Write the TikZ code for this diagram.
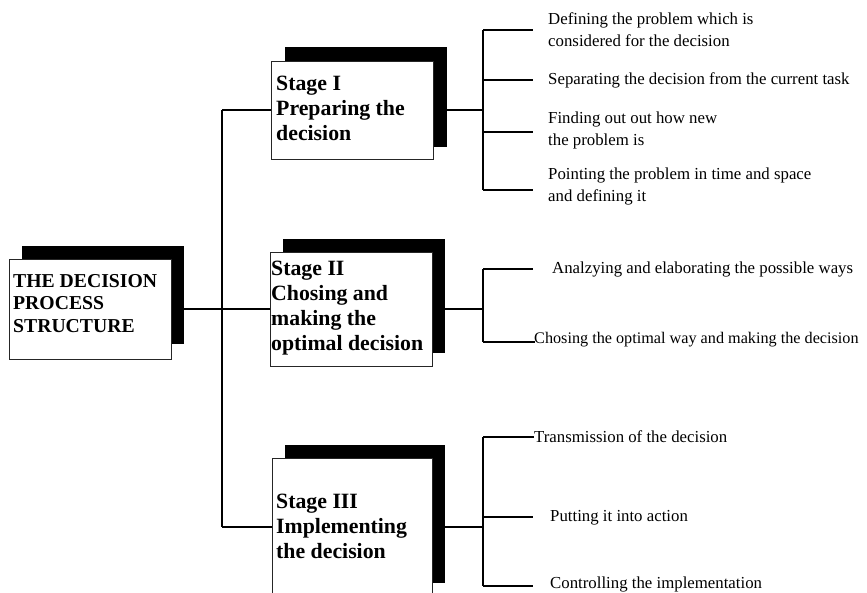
\documentclass[tikz,border=0pt]{standalone}
\usepackage{fontspec}
\setmainfont{Liberation Serif}
\begin{document}
\begin{tikzpicture}[x=1pt,y=-1pt,
  shadowbox/.style={fill=black,draw=none,anchor=north west,inner sep=0pt,minimum width=162,minimum height=#1},
  whitebox/.style={fill=white,draw=black!85,line width=1pt,anchor=north west,inner sep=0pt,minimum width=162,minimum height=#1},
  conn/.style={line width=1.3pt},
  tickline/.style={line width=1.1pt},
  item/.style={anchor=base west,inner sep=0pt,font=\fontsize{16.8}{22}\selectfont},
  stagetext/.style={anchor=base west,inner sep=0pt,font=\fontsize{21.8}{25}\selectfont\bfseries},
  titletext/.style={anchor=base west,inner sep=0pt,font=\fontsize{19.7}{22.5}\selectfont\bfseries}]
\useasboundingbox (0,0) rectangle (867,593);
\clip (0,0) rectangle (867,593);

% main box
\node[shadowbox=98] (mS) at (22,246) {};
\node[whitebox=100] (m) at (9,259) {};
\node[titletext] (m1) at (13,287.5) {THE DECISION};
\node[titletext] (m2) at (13,310) {PROCESS};
\node[titletext] (m3) at (13,332.5) {STRUCTURE};

% stage I
\node[shadowbox=100] (s1S) at (285,47) {};
\node[whitebox=98] (s1) at (271,61) {};
\node[stagetext] (s1a) at (276,91) {Stage I};
\node[stagetext] (s1b) at (276,116) {Preparing the};
\node[stagetext] (s1c) at (276,141) {decision};

% stage II
\node[shadowbox=114] (s2S) at (283,239) {};
\node[whitebox=114] (s2) at (270,252) {};
\node[stagetext] (s2a) at (271,276) {Stage II};
\node[stagetext] (s2b) at (271,301) {Chosing and};
\node[stagetext] (s2c) at (271,326) {making the};
\node[stagetext] (s2d) at (271,351) {optimal decision};

% stage III
\node[shadowbox=138,minimum width=160] (s3S) at (285,445) {};
\node[whitebox=138,minimum width=160] (s3) at (272,458) {};
\node[stagetext] (s3a) at (276,508) {Stage III};
\node[stagetext] (s3b) at (276,533) {Implementing};
\node[stagetext] (s3c) at (276,558) {the decision};

% trunk
\coordinate (tI) at (222,110);
\coordinate (tM) at (222,309);
\coordinate (tIII) at (222,527);
\draw[conn] (tM -| m.east) -- (tM);
\draw[conn] (tI) -- (tIII);
\draw[conn] (tI) -- (tI -| s1.west);
\draw[conn] (tM) -- (tM -| s2.west);
\draw[conn] (tIII) -- (tIII -| s3.west);

% branch I
\coordinate (b1) at (483,110);
\coordinate (b1t) at (483,30);
\coordinate (b1b) at (483,190);
\coordinate (b1e1) at (533,30);
\coordinate (b1e2) at (533,80);
\coordinate (b1e3) at (533,132);
\coordinate (b1e4) at (533,190);
\draw[conn] (b1 -| s1S.east) -- (b1);
\draw[conn] (b1t) -- (b1b);
\draw[tickline] (b1t) -- (b1e1);
\draw[tickline] (b1 |- b1e2) -- (b1e2);
\draw[tickline] (b1 |- b1e3) -- (b1e3);
\draw[tickline] (b1b) -- (b1e4);
\node[item] (i1a) at (548,25) {Defining the problem which is};
\node[item] (i1b) at (548,47) {considered for the decision};
\node[item] (i2) at (548,85) {Separating the decision from the current task};
\node[item] (i3a) at (548,124) {Finding out out how new};
\node[item] (i3b) at (548,146) {the problem is};
\node[item] (i4a) at (548,180) {Pointing the problem in time and space};
\node[item] (i4b) at (548,202) {and defining it};

% branch II
\coordinate (b2) at (483,309);
\coordinate (b2t) at (483,269);
\coordinate (b2b) at (483,342);
\coordinate (b2e1) at (533,269);
\coordinate (b2e2) at (535,342);
\draw[conn] (b2 -| s2S.east) -- (b2);
\draw[conn] (b2t) -- (b2b);
\draw[tickline] (b2t) -- (b2e1);
\draw[tickline] (b2b) -- (b2e2);
\node[item] (j1) at (552,274) {Analzying and elaborating the possible ways};
\node[item,font=\fontsize{16.2}{22}\selectfont] (j2) at (534,344) {Chosing the optimal way and making the decision};

% branch III
\coordinate (b3) at (483,527);
\coordinate (b3t) at (483,437);
\coordinate (b3b) at (483,586);
\coordinate (b3e1) at (534,437);
\coordinate (b3e2) at (533,517);
\coordinate (b3e3) at (533,586);
\draw[conn] (b3 -| s3S.east) -- (b3);
\draw[conn] (b3t) -- (b3b);
\draw[tickline] (b3t) -- (b3e1);
\draw[tickline] (b3 |- b3e2) -- (b3e2);
\draw[tickline] (b3b) -- (b3e3);
\node[item] (k1) at (534,442) {Transmission of the decision};
\node[item] (k2) at (550,521) {Putting it into action};
\node[item] (k3) at (550,588) {Controlling the implementation};
\end{tikzpicture}
\end{document}
